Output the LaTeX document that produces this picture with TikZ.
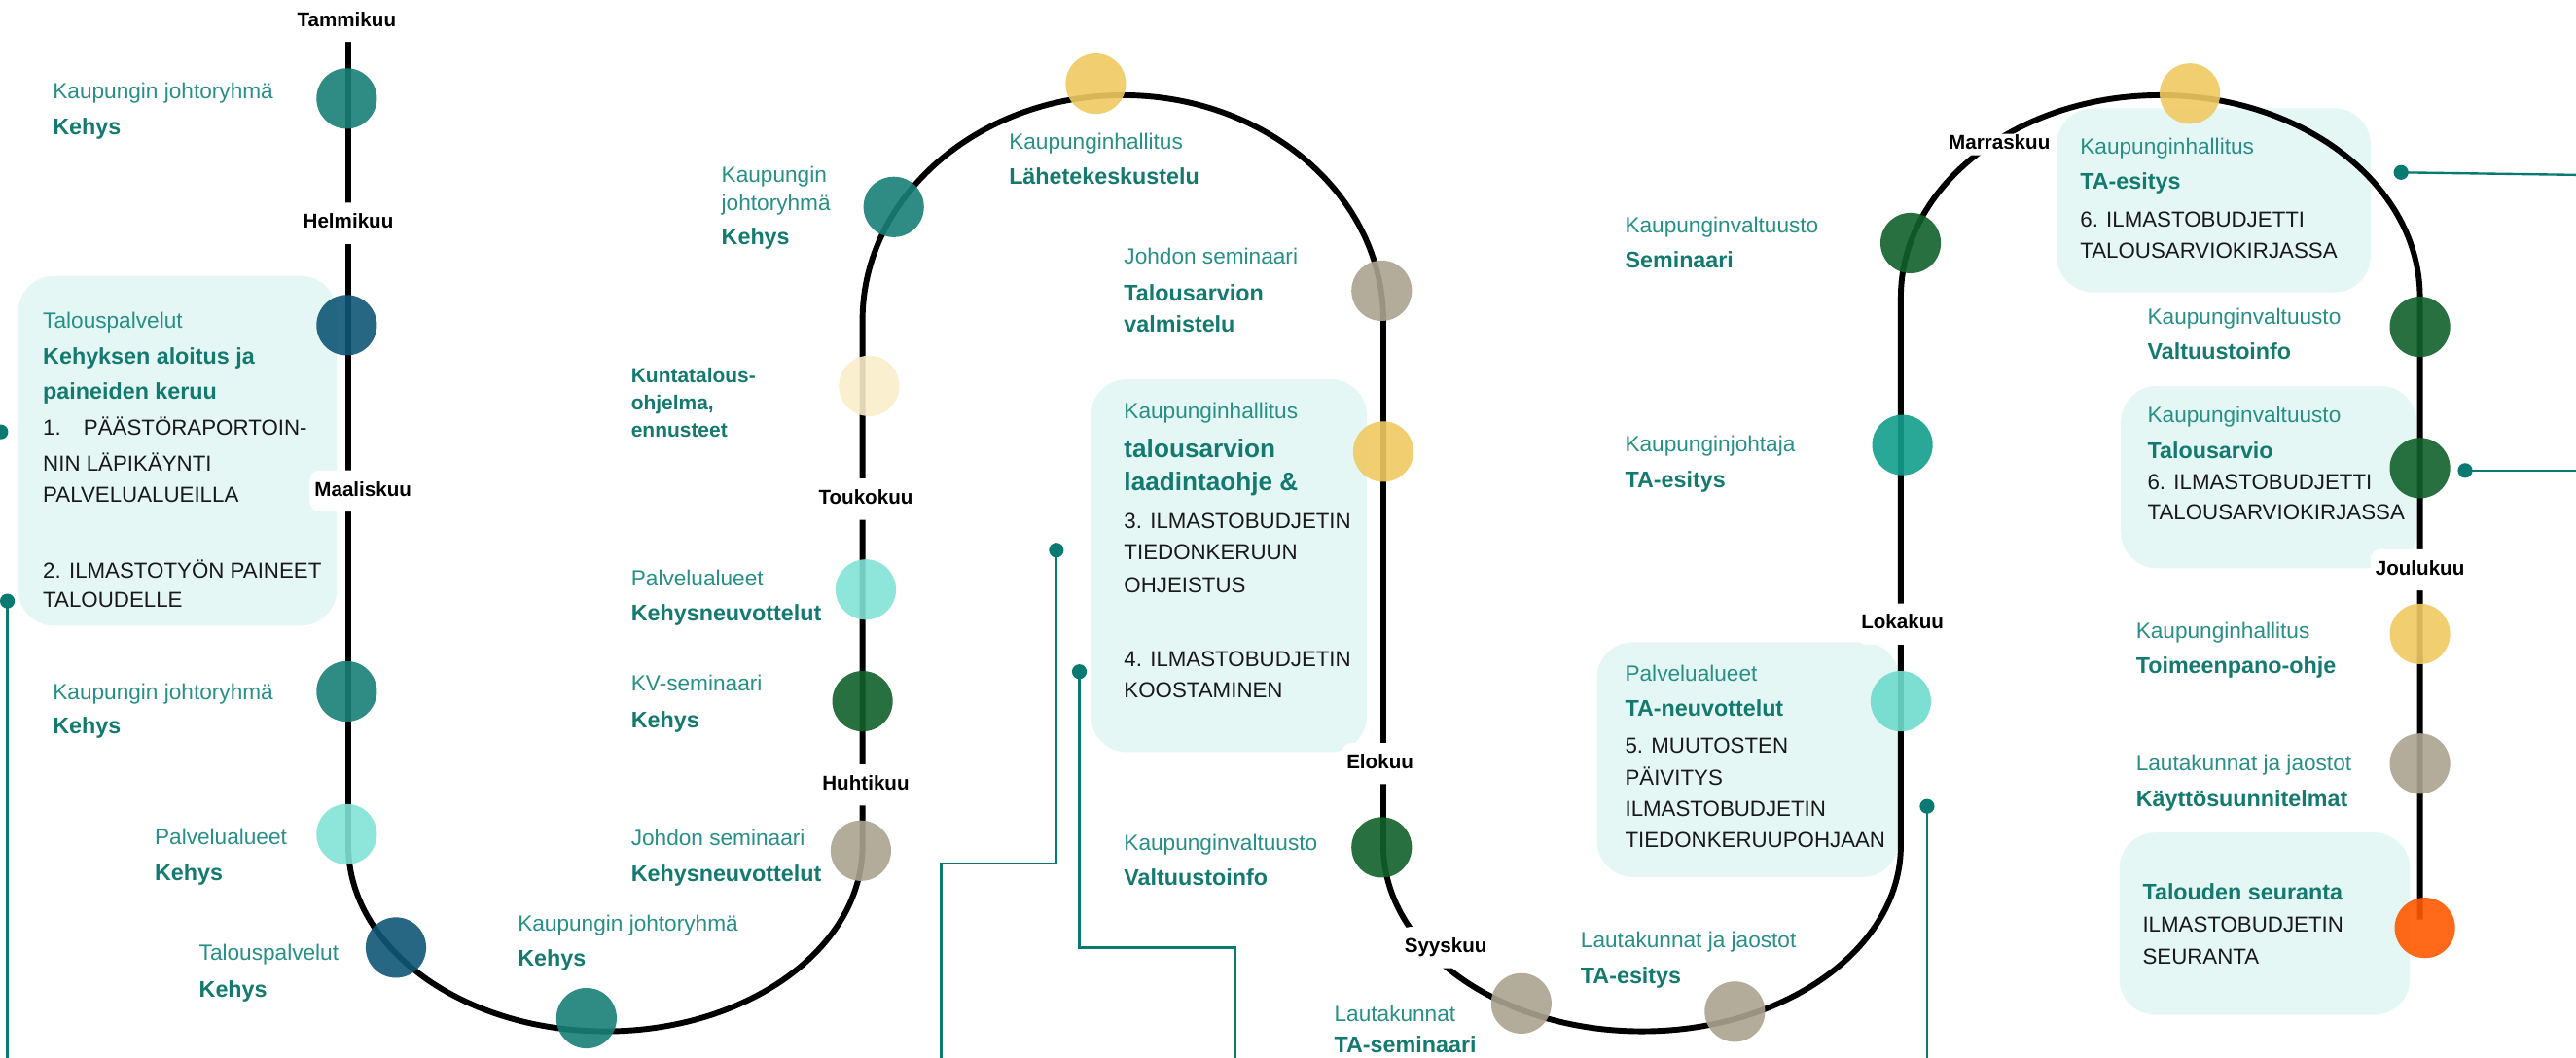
\documentclass[tikz,border=0pt]{standalone}
\usepackage{fontspec}
\setmainfont{Liberation Sans}
\usepackage{tikz}

\definecolor{tealtext}{RGB}{40,143,134}
\definecolor{tealbold}{RGB}{20,122,112}
\definecolor{linkteal}{RGB}{8,122,114}
\definecolor{panelfill}{RGB}{228,247,244}
\definecolor{johto}{RGB}{24,128,119}
\definecolor{talous}{RGB}{15,87,118}
\definecolor{palvelu}{RGB}{130,226,213}
\definecolor{palvelub}{RGB}{110,220,205}
\definecolor{valtuusto}{RGB}{18,97,43}
\definecolor{semi}{RGB}{172,163,144}
\definecolor{hallitus}{RGB}{240,202,98}
\definecolor{kunta}{RGB}{250,237,202}
\definecolor{johtaja}{RGB}{18,158,141}
\definecolor{seuranta}{RGB}{255,89,0}

\newcommand{\whofont}{\fontsize{13.4}{16}\selectfont}
\newcommand{\whatfont}{\fontsize{13.8}{16}\selectfont\bfseries}
\newcommand{\bigfont}{\fontsize{15.5}{18}\selectfont\bfseries}
\newcommand{\capfont}{\fontsize{13.2}{16}\selectfont}
\newcommand{\monthfont}{\fontsize{12.2}{14}\selectfont\bfseries}

\tikzset{
  trackline/.style={line width=3.5pt},
  evdot/.style={circle, minimum size=36.8pt, inner sep=0pt, fill opacity=0.9},
  monthlbl/.style={font=\monthfont, fill=white, rounded corners=6pt, inner xsep=3pt, inner ysep=7pt, text height=8.6pt, text depth=2.5pt},
  whotext/.style={anchor=base west, inner sep=0pt, text=tealtext, font=\whofont},
  whattext/.style={anchor=base west, inner sep=0pt, text=tealbold, font=\whatfont},
  bigtext/.style={anchor=base west, inner sep=0pt, text=tealbold, font=\bigfont},
  captext/.style={anchor=base west, inner sep=0pt, text=black!90, font=\capfont},
  panelbox/.style={fill=panelfill, rounded corners=22pt},
  linkline/.style={draw=linkteal, line width=1.4pt},
  linkdot/.style={circle, fill=linkteal, minimum size=9pt, inner sep=0pt}
}

\begin{document}
\begin{tikzpicture}[x=1pt, y=-1pt]
  \useasboundingbox (0,0) rectangle (1568,644);

  \fill [panelbox] (11,168) rectangle (205,381);
  \fill [panelbox] (664,231) rectangle (832,458);
  \fill [panelbox] (972,391) rectangle (1156,534);
  \fill [panelbox] (1252,66) rectangle (1443,178);
  \fill [panelbox] (1291,235) rectangle (1471,346);
  \fill [panelbox] (1290,507) rectangle (1467,618);

  \draw [trackline] (212,23) -- (212,515)
    arc [start angle=180, end angle=0, x radius=156.5, y radius=113] -- (525,195)
    arc [start angle=180, end angle=360, x radius=158.5, y radius=137] -- (842,515)
    arc [start angle=180, end angle=0, x radius=157.5, y radius=113] -- (1157,181)
    arc [start angle=180, end angle=360, x radius=158, y radius=123] -- (1473,560);

  \node [monthlbl] (tam) at (211,13) {Tammikuu};
  \node [monthlbl] (hel) at (212,136) {Helmikuu};
  \node [monthlbl] (maa) at (221,299) {Maaliskuu};
  \node [monthlbl] (huh) at (527,478) {Huhtikuu};
  \node [monthlbl] (tou) at (527,304) {Toukokuu};
  \node [monthlbl] (elo) at (840,465) {Elokuu};
  \node [monthlbl] (syy) at (880,577) {Syyskuu};
  \node [monthlbl] (lok) at (1158,380) {Lokakuu};
  \node [monthlbl, inner ysep=1pt] (mar) at (1217,88) {Marraskuu};
  \node [monthlbl] (jou) at (1473,347) {Joulukuu};

  \node [evdot, fill=johto] (jr1) at (211,60) {};
  \node [evdot, fill=talous] (tp1) at (211,198) {};
  \node [evdot, fill=johto] (jr2) at (211,421) {};
  \node [evdot, fill=palvelu] (pa1) at (211,508) {};
  \node [evdot, fill=talous] (tp2) at (241,577) {};
  \node [evdot, fill=johto] (jr3) at (357,620) {};
  \node [evdot, fill=semi] (js1) at (524,518) {};
  \node [evdot, fill=valtuusto] (kv1) at (525,427) {};
  \node [evdot, fill=palvelu] (pa2) at (527,359) {};
  \node [evdot, fill=kunta] (kt1) at (529,235) {};
  \node [evdot, fill=johto] (jr4) at (544,126) {};
  \node [evdot, fill=hallitus] (kh1) at (667,51) {};
  \node [evdot, fill=semi] (js2) at (841,177) {};
  \node [evdot, fill=hallitus] (kh2) at (842,275) {};
  \node [evdot, fill=valtuusto] (kv2) at (841,516) {};
  \node [evdot, fill=semi] (lk1) at (926,611) {};
  \node [evdot, fill=semi] (lk2) at (1056,616) {};
  \node [evdot, fill=palvelub] (pa3) at (1157,427) {};
  \node [evdot, fill=johtaja] (kj1) at (1158,271) {};
  \node [evdot, fill=valtuusto] (kv3) at (1163,148) {};
  \node [evdot, fill=hallitus] (kh3) at (1333,57) {};
  \node [evdot, fill=valtuusto] (kv4) at (1473,199) {};
  \node [evdot, fill=valtuusto] (kv5) at (1473,285) {};
  \node [evdot, fill=hallitus] (kh4) at (1473,386) {};
  \node [evdot, fill=semi] (lk3) at (1473,465) {};
  \node [evdot, fill=seuranta] (sr1) at (1476,565) {};

  \node [whotext] (jr1a) at (32,60) {Kaupungin johtoryhmä};
  \node [whattext] (jr1b) at (32,82) {Kehys};

  \node [whotext] (tp1a) at (26,200) {Talouspalvelut};
  \node [whattext] (tp1b) at (26,222) {Kehyksen aloitus ja};
  \node [whattext] (tp1c) at (26,243) {paineiden keruu};
  \node [captext] (tp1d) at (26,265) {1.\hspace*{13.7pt}PÄÄSTÖRAPORTOIN-};
  \node [captext] (tp1e) at (26,287) {NIN LÄPIKÄYNTI};
  \node [captext] (tp1f) at (26,306) {PALVELUALUEILLA};
  \node [captext] (tp1g) at (26,352) {2. ILMASTOTYÖN PAINEET};
  \node [captext] (tp1h) at (26,370) {TALOUDELLE};

  \node [whotext] (jr2a) at (32,426) {Kaupungin johtoryhmä};
  \node [whattext] (jr2b) at (32,447) {Kehys};
  \node [whotext] (pa1a) at (94,514) {Palvelualueet};
  \node [whattext] (pa1b) at (94,536) {Kehys};
  \node [whotext] (tp2a) at (121,585) {Talouspalvelut};
  \node [whattext] (tp2b) at (121,607) {Kehys};
  \node [whotext] (jr3a) at (315,567) {Kaupungin johtoryhmä};
  \node [whattext] (jr3b) at (315,588) {Kehys};

  \node [whotext] (js1a) at (384,515) {Johdon seminaari};
  \node [whattext] (js1b) at (384,537) {Kehysneuvottelut};
  \node [whotext] (kv1a) at (384,421) {KV-seminaari};
  \node [whattext] (kv1b) at (384,443) {Kehys};
  \node [whotext] (pa2a) at (384,357) {Palvelualueet};
  \node [whattext] (pa2b) at (384,378) {Kehysneuvottelut};
  \node [whattext, font=\fontsize{12.4}{14}\selectfont\bfseries] (kt1a) at (384,233) {Kuntatalous-};
  \node [whattext, font=\fontsize{12.4}{14}\selectfont\bfseries] (kt1b) at (384,249.5) {ohjelma,};
  \node [whattext, font=\fontsize{12.4}{14}\selectfont\bfseries] (kt1c) at (384,266) {ennusteet};
  \node [whotext] (jr4a) at (439,111) {Kaupungin};
  \node [whotext] (jr4b) at (439,128) {johtoryhmä};
  \node [whattext] (jr4c) at (439,149) {Kehys};

  \node [whotext] (kh1a) at (614,91) {Kaupunginhallitus};
  \node [whattext] (kh1b) at (614,112.5) {Lähetekeskustelu};
  \node [whotext] (js2a) at (684,161) {Johdon seminaari};
  \node [whattext] (js2b) at (684,183) {Talousarvion};
  \node [whattext] (js2c) at (684,202) {valmistelu};

  \node [whotext] (kh2a) at (684,255) {Kaupunginhallitus};
  \node [bigtext] (kh2b) at (684,278.5) {talousarvion};
  \node [bigtext] (kh2c) at (684,299) {laadintaohje \&};
  \node [captext] (kh2d) at (684,322) {3. ILMASTOBUDJETIN};
  \node [captext] (kh2e) at (684,341) {TIEDONKERUUN};
  \node [captext] (kh2f) at (684,361) {OHJEISTUS};
  \node [captext] (kh2g) at (684,406) {4. ILMASTOBUDJETIN};
  \node [captext] (kh2h) at (684,425) {KOOSTAMINEN};

  \node [whotext] (kv2a) at (684,518) {Kaupunginvaltuusto};
  \node [whattext] (kv2b) at (684,539) {Valtuustoinfo};
  \node [whotext] (lk1a) at (812,622) {Lautakunnat};
  \node [whattext] (lk1b) at (812,641) {TA-seminaari};
  \node [whotext] (lk2a) at (962,577) {Lautakunnat ja jaostot};
  \node [whattext] (lk2b) at (962,599) {TA-esitys};

  \node [whotext] (pa3a) at (989,414.5) {Palvelualueet};
  \node [whattext] (pa3b) at (989,436) {TA-neuvottelut};
  \node [captext] (pa3c) at (989,458.5) {5. MUUTOSTEN};
  \node [captext] (pa3d) at (989,478) {PÄIVITYS};
  \node [captext] (pa3e) at (989,497) {ILMASTOBUDJETIN};
  \node [captext] (pa3f) at (989,516) {TIEDONKERUUPOHJAAN};
  \node [whotext] (kj1a) at (989,275) {Kaupunginjohtaja};
  \node [whattext] (kj1b) at (989,297) {TA-esitys};
  \node [whotext] (kv3a) at (989,142) {Kaupunginvaltuusto};
  \node [whattext] (kv3b) at (989,163) {Seminaari};

  \node [whotext] (kh3a) at (1266,94) {Kaupunginhallitus};
  \node [whattext] (kh3b) at (1266,115) {TA-esitys};
  \node [captext] (kh3c) at (1266,138) {6. ILMASTOBUDJETTI};
  \node [captext] (kh3d) at (1266,157.5) {TALOUSARVIOKIRJASSA};
  \node [whotext] (kv4a) at (1307,197.5) {Kaupunginvaltuusto};
  \node [whattext] (kv4b) at (1307,219) {Valtuustoinfo};
  \node [whotext] (kv5a) at (1307,257) {Kaupunginvaltuusto};
  \node [whattext] (kv5b) at (1307,279) {Talousarvio};
  \node [captext] (kv5c) at (1307,298) {6. ILMASTOBUDJETTI};
  \node [captext] (kv5d) at (1307,316.5) {TALOUSARVIOKIRJASSA};
  \node [whotext] (kh4a) at (1300,389) {Kaupunginhallitus};
  \node [whattext] (kh4b) at (1300,410) {Toimeenpano-ohje};
  \node [whotext] (lk3a) at (1300,469) {Lautakunnat ja jaostot};
  \node [whattext] (lk3b) at (1300,491) {Käyttösuunnitelmat};
  \node [whattext] (sr1a) at (1304,548) {Talouden seuranta};
  \node [captext] (sr1b) at (1304,567.5) {ILMASTOBUDJETIN};
  \node [captext] (sr1c) at (1304,587) {SEURANTA};

  \coordinate (bEnd) at (4.5,644);
  \coordinate (cBend) at (573,526);
  \coordinate (cEnd) at (573,644);
  \coordinate (dBend) at (752,577);
  \coordinate (dEnd) at (752,644);
  \coordinate (eEnd) at (1173,644);
  \coordinate (fEnd) at (1568,106.5);
  \coordinate (gEnd) at (1568,286.5);

  \node [linkdot] (lnkA) at (0.5,263) {};
  \node [linkdot] (lnkB) at (4.5,366) {};
  \node [linkdot] (lnkC) at (643,335) {};
  \node [linkdot] (lnkD) at (657,409) {};
  \node [linkdot] (lnkE) at (1173,491) {};
  \node [linkdot] (lnkF) at (1461.5,105) {};
  \node [linkdot] (lnkG) at (1500.5,286.5) {};

  \draw [linkline] (lnkB.center) -- (bEnd);
  \draw [linkline] (lnkC.center) |- (cBend) -- (cEnd);
  \draw [linkline] (lnkD.center) |- (dBend) -- (dEnd);
  \draw [linkline] (lnkE.center) -- (eEnd);
  \draw [linkline] (lnkF.center) -- (fEnd);
  \draw [linkline] (lnkG.center) -- (gEnd);
\end{tikzpicture}
\end{document}
